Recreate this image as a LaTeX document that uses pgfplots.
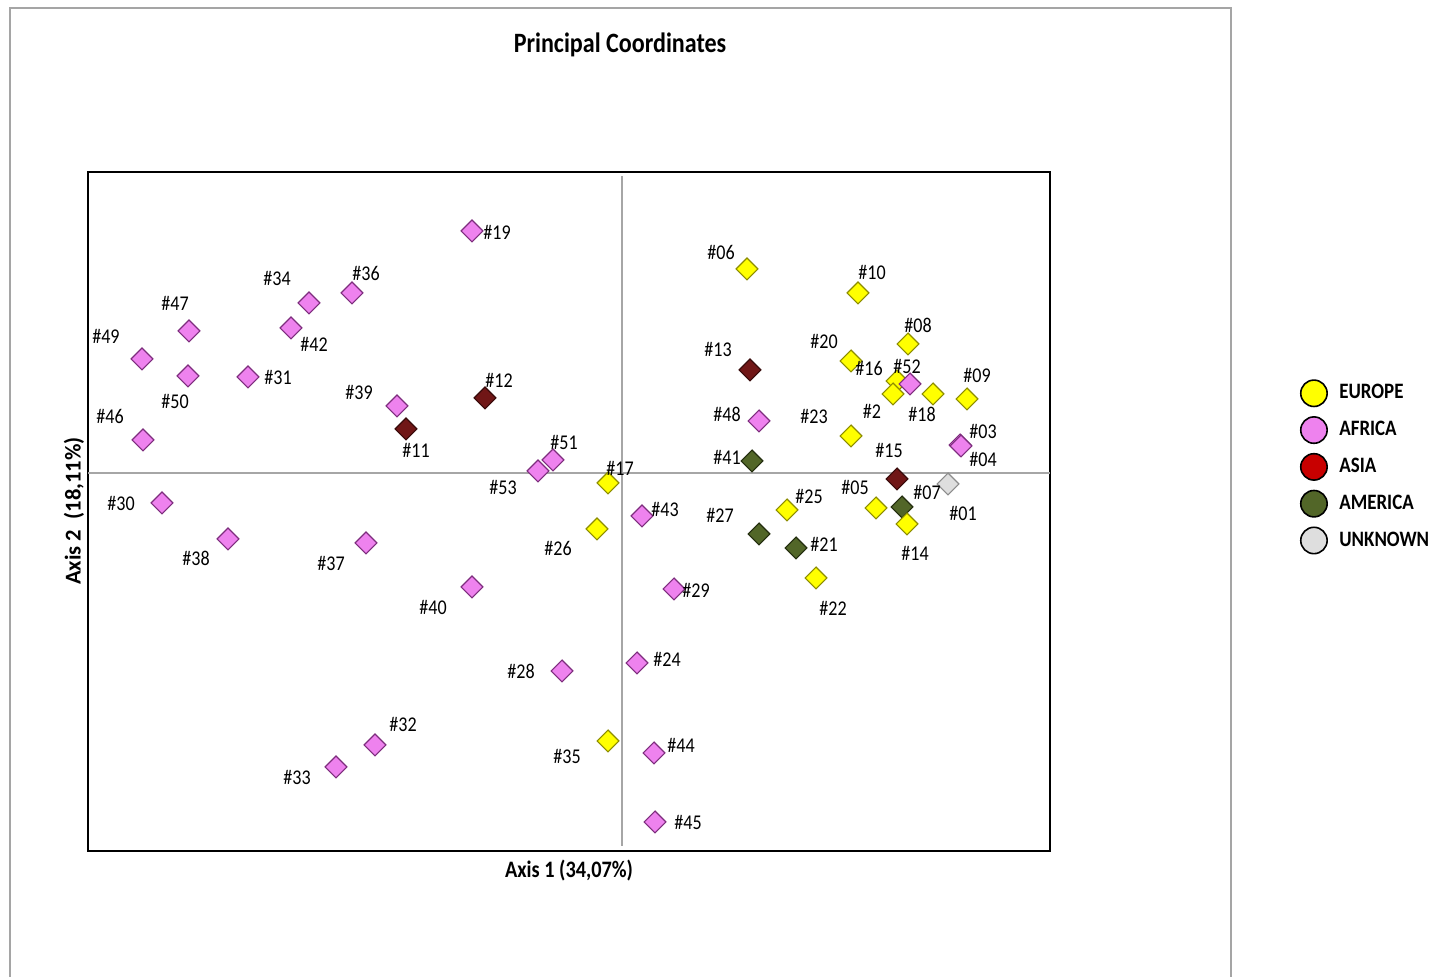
\documentclass[border=0pt]{standalone}
\usepackage{fontspec}
\setmainfont{Carlito}[FakeStretch=0.86]
\newfontfamily\plainfont{Carlito}
\usepackage{pgfplots}
\usepackage{pgfplotstable}
\pgfplotsset{compat=1.18}

\definecolor{euF}{RGB}{255,255,0}
\definecolor{euD}{RGB}{140,140,0}
\definecolor{afF}{RGB}{238,130,238}
\definecolor{afD}{RGB}{125,45,125}
\definecolor{asF}{RGB}{112,22,22}
\definecolor{asD}{RGB}{55,10,10}
\definecolor{amF}{RGB}{82,102,40}
\definecolor{amD}{RGB}{35,45,15}
\definecolor{unF}{RGB}{222,222,222}
\definecolor{unD}{RGB}{140,140,140}
\definecolor{asL}{RGB}{200,0,0}
\definecolor{frameG}{RGB}{165,165,165}

% x, y: sample position; lx, ly: label position; lab: sample number
\pgfplotstableread{
x y lx ly lab
-150 242 -125 241 19
-270 180 -256 199 36
-313 170 -345 194 34
-433 142 -447 170 47
-331 145 -308 129 42
-480 114 -516 137 49
-434 97 -447 71 50
-374 96 -344 95 31
-225 67 -263 80 39
-479 33 -512 56 46
-69 13 -58 31 51
-84 2 -119 -14 53
-460 -30 -501 -31 30
-394 -66 -426 -85 38
-256 -70 -291 -90 37
-150 -114 -189 -134 40
20 -43 43 -36 43
52 -116 74 -117 29
-60 -198 -101 -198 28
15 -190 45 -186 24
32 -280 59 -272 44
33 -349 66 -349 45
-247 -272 -219 -251 32
-286 -294 -325 -304 33
137 52 105 59 48
288 89 285 106 52
338 28 361 41 03
339 27 361 13 04
}\africa

\pgfplotstableread{
x y lx ly lab
125 204 99 220 06
236 180 250 200 10
286 129 296 148 08
229 112 202 131 20
275 92 247 104 16
271 79 250 62 2
311 79 300 59 18
345 74 355 97 09
229 37 192 56 23
-14 -10 -2 5 17
-25 -56 -64 -76 26
-14 -268 -55 -283 35
165 -37 187 -24 25
194 -105 211 -135 22
254 -35 233 -14 05
285 -51 293 -80 14
}\europe

\pgfplotstableread{
x y lx ly lab
130 12 105 16 41
137 -61 98 -42 27
174 -75 202 -71 21
280 -34 305 -19 07
}\america

\pgfplotstableread{
x y lx ly lab
128 103 96 123 13
-137 75 -123 93 12
-216 44 -206 23 11
275 -6 267 23 15
}\asia

\pgfplotstableread{
x y lx ly lab
326 -11 341 -40 01
}\unknown

\begin{document}
\begin{tikzpicture}
\path[use as bounding box] (0pt,0pt) rectangle (720.5pt,488.5pt);
% outer frame
\draw[frameG, line width=0.8pt] (5pt,0pt) -- (5pt,484.5pt) -- (615.5pt,484.5pt) -- (615.5pt,0pt);

\begin{axis}[
  at={(44pt,63pt)}, anchor=south west,
  width=481pt, height=339.5pt, scale only axis,
  xmin=-534, xmax=428, ymin=-378, ymax=301,
  xtick=\empty, ytick=\empty,
  axis line style={line width=1.2pt, black},
  clip=false,
  legend style={at={(1.254,0.70)}, anchor=north west, draw=none, fill=none,
    font=\fontsize{11}{13}\selectfont\bfseries, row sep=5.2pt,
    nodes={inner sep=1pt}},
  legend cell align=left,
  legend image code/.code={\draw[#1, mark size=6.6pt, line width=0.8pt] plot coordinates {(0pt,0pt)};
    \path (11.5pt,0pt);},
  lbl/.style={draw=none, mark=none, nodes near coords={\#\pgfplotspointmeta},
    point meta=explicit symbolic,
    nodes near coords style={anchor=center, inner sep=0pt, black,
      font=\fontsize{10.5}{12}\selectfont}},
  dmd/.style 2 args={only marks, mark=square*, mark size=3.85pt,
    mark options={rotate=45, line width=0.6pt, fill=#1, draw=#2}},
]
% zero lines
\addplot[gray!70, line width=0.6pt, forget plot] coordinates {(-534,0) (428,0)};
\addplot[gray!70, line width=0.6pt, forget plot] coordinates {(0,-373) (0,297)};

% legend entries
\addlegendimage{only marks, mark=*, fill=euF, draw=black}
\addlegendentry{EUROPE}
\addlegendimage{only marks, mark=*, fill=afF, draw=black}
\addlegendentry{AFRICA}
\addlegendimage{only marks, mark=*, fill=asL, draw=black}
\addlegendentry{ASIA}
\addlegendimage{only marks, mark=*, fill=amF, draw=black}
\addlegendentry{AMERICA}
\addlegendimage{only marks, mark=*, fill=unF, draw=black}
\addlegendentry{UNKNOWN}

% markers
\addplot[dmd={amF}{amD}, forget plot] table[x=x, y=y] {\america};
\addplot[dmd={euF}{euD}, forget plot] table[x=x, y=y] {\europe};
\addplot[dmd={afF}{afD}, forget plot] table[x=x, y=y] {\africa};
\addplot[dmd={asF}{asD}, forget plot] table[x=x, y=y] {\asia};
\addplot[dmd={unF}{unD}, forget plot] table[x=x, y=y] {\unknown};

% labels
\addplot[lbl, forget plot] table[x=lx, y=ly, meta=lab] {\africa};
\addplot[lbl, forget plot] table[x=lx, y=ly, meta=lab] {\europe};
\addplot[lbl, forget plot] table[x=lx, y=ly, meta=lab] {\america};
\addplot[lbl, forget plot] table[x=lx, y=ly, meta=lab] {\asia};
\addplot[lbl, forget plot] table[x=lx, y=ly, meta=lab] {\unknown};
\end{axis}

\node[font=\fontsize{14}{17}\selectfont\bfseries] at (310pt,466pt) {Principal Coordinates};
\node[font=\fontsize{11.8}{14}\selectfont\bfseries] at (284.5pt,53pt) {Axis 1 (34,07\%)};
\node[font=\plainfont\fontsize{11.3}{14}\selectfont\bfseries, rotate=90] at (37pt,233pt) {Axis 2\ \ (18,11\%)};
\end{tikzpicture}
\end{document}
